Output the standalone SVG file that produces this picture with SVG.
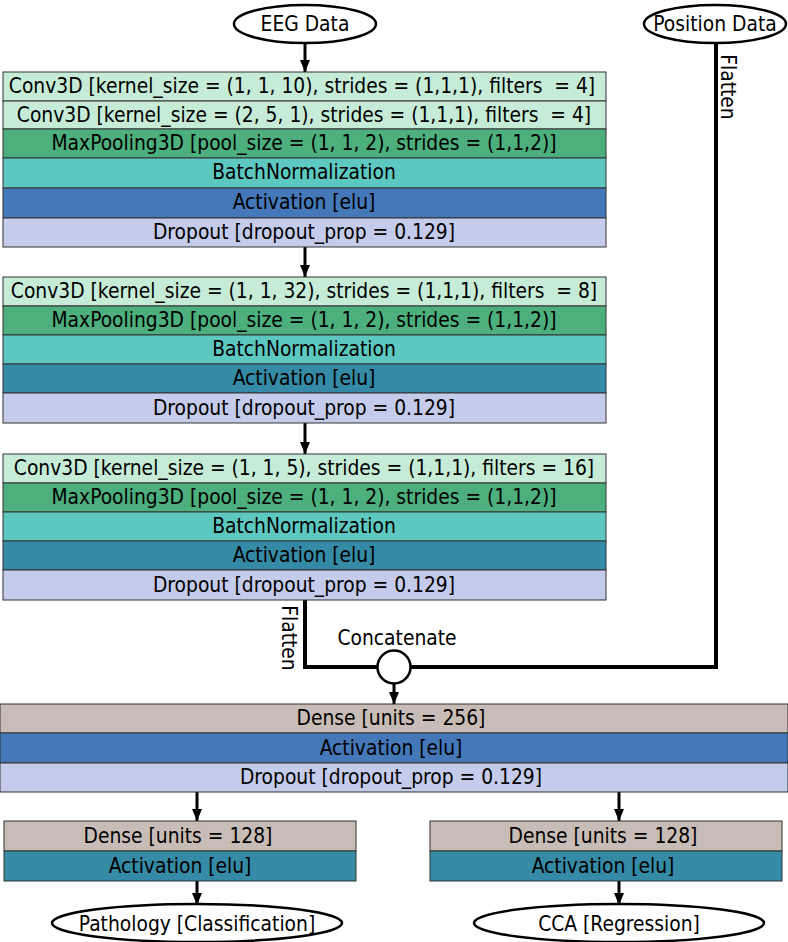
<svg xmlns="http://www.w3.org/2000/svg" width="788" height="942" viewBox="0 0 788 942">
<defs>
<style>
text{font-family:"DejaVu Sans Condensed","DejaVu Sans","Liberation Sans",sans-serif;font-stretch:condensed;font-size:20.8px;fill:#000;text-anchor:middle;white-space:pre}
.r{stroke:#333;stroke-width:1}
.cv{fill:#c6ecd7}.mp{fill:#4caf7d}.bn{fill:#5dc8c0}.ab{fill:#4478b8}.at{fill:#358aa5}.dr{fill:#c5cbea}.de{fill:#c8bdb6}
.ell{fill:#fff;stroke:#000;stroke-width:2.5}
.ln{fill:none;stroke:#000;stroke-width:4}
.ar{fill:none;stroke:#000;stroke-width:3}
</style>
<marker id="ah2" viewBox="0 0 12 10" markerWidth="12" markerHeight="10" refX="12" refY="5" orient="auto" markerUnits="userSpaceOnUse"><path d="M0,0 L12,5 L0,10 z" fill="#000"/></marker>
</defs>
<g id="connectors">
<line class="ar" x1="305" y1="43" x2="305" y2="72" marker-end="url(#ah2)"/>
<line class="ar" x1="305" y1="247" x2="305" y2="277" marker-end="url(#ah2)"/>
<line class="ar" x1="305" y1="423" x2="305" y2="454" marker-end="url(#ah2)"/>
<polyline class="ln" points="305,600 305,667 378,667"/>
<polyline class="ln" points="410,667 716,667 716,43"/>
<line class="ar" x1="394" y1="684" x2="394" y2="704" marker-end="url(#ah2)"/>
<line class="ar" x1="197" y1="792" x2="197" y2="821" marker-end="url(#ah2)"/>
<line class="ar" x1="619" y1="792" x2="619" y2="821" marker-end="url(#ah2)"/>
<line class="ar" x1="197" y1="881" x2="197" y2="905" marker-end="url(#ah2)"/>
<line class="ar" x1="619" y1="881" x2="619" y2="905" marker-end="url(#ah2)"/>
<text transform="translate(721,87) rotate(90)">Flatten</text>
<text transform="translate(282,638) rotate(90)">Flatten</text>
</g>
<g id="eeg"><ellipse class="ell" cx="305" cy="24" rx="71" ry="19"/><text x="305" y="31">EEG Data</text></g>
<g id="pos"><ellipse class="ell" cx="715" cy="24" rx="71" ry="19"/><text x="715" y="31">Position Data</text></g>
<g id="block1">
<rect class="r cv" x="3" y="72" width="603" height="29"/><text x="302" y="93">Conv3D [kernel_size = (1, 1, 10), strides = (1,1,1), filters  = 4]</text>
<rect class="r cv" x="3" y="101" width="603" height="28"/><text x="304" y="122">Conv3D [kernel_size = (2, 5, 1), strides = (1,1,1), filters  = 4]</text>
<rect class="r mp" x="3" y="129" width="603" height="29"/><text x="304" y="150">MaxPooling3D [pool_size = (1, 1, 2), strides = (1,1,2)]</text>
<rect class="r bn" x="3" y="158" width="603" height="30"/><text x="304" y="179">BatchNormalization</text>
<rect class="r ab" x="3" y="188" width="603" height="30"/><text x="304" y="209">Activation [elu]</text>
<rect class="r dr" x="3" y="218" width="603" height="29"/><text x="304" y="239">Dropout [dropout_prop = 0.129]</text>
</g>
<g id="block2">
<rect class="r cv" x="3" y="277" width="603" height="29"/><text x="304" y="298">Conv3D [kernel_size = (1, 1, 32), strides = (1,1,1), filters  = 8]</text>
<rect class="r mp" x="3" y="306" width="603" height="29"/><text x="304" y="327">MaxPooling3D [pool_size = (1, 1, 2), strides = (1,1,2)]</text>
<rect class="r bn" x="3" y="335" width="603" height="29"/><text x="304" y="356">BatchNormalization</text>
<rect class="r at" x="3" y="364" width="603" height="29"/><text x="304" y="385">Activation [elu]</text>
<rect class="r dr" x="3" y="393" width="603" height="30"/><text x="304" y="415">Dropout [dropout_prop = 0.129]</text>
</g>
<g id="block3">
<rect class="r cv" x="3" y="454" width="603" height="29"/><text x="304" y="475">Conv3D [kernel_size = (1, 1, 5), strides = (1,1,1), filters = 16]</text>
<rect class="r mp" x="3" y="483" width="603" height="29"/><text x="304" y="504">MaxPooling3D [pool_size = (1, 1, 2), strides = (1,1,2)]</text>
<rect class="r bn" x="3" y="512" width="603" height="29"/><text x="304" y="533">BatchNormalization</text>
<rect class="r at" x="3" y="541" width="603" height="29"/><text x="304" y="562">Activation [elu]</text>
<rect class="r dr" x="3" y="570" width="603" height="30"/><text x="304" y="592">Dropout [dropout_prop = 0.129]</text>
</g>
<g id="concat"><circle cx="394" cy="667" r="16.5" fill="#fff" stroke="#000" stroke-width="2.5"/><text x="397" y="645">Concatenate</text></g>
<g id="dense1">
<rect class="r de" x="0" y="704" width="788" height="29"/><text x="391" y="725">Dense [units = 256]</text>
<rect class="r ab" x="0" y="733" width="788" height="30"/><text x="391" y="755">Activation [elu]</text>
<rect class="r dr" x="0" y="763" width="788" height="29"/><text x="391" y="784">Dropout [dropout_prop = 0.129]</text>
</g>
<g id="left">
<rect class="r de" x="4" y="821" width="352" height="30"/><text x="178" y="843">Dense [units = 128]</text>
<rect class="r at" x="4" y="851" width="352" height="30"/><text x="180" y="873">Activation [elu]</text>
</g>
<g id="right">
<rect class="r de" x="430" y="821" width="352" height="30"/><text x="603" y="843">Dense [units = 128]</text>
<rect class="r at" x="430" y="851" width="352" height="30"/><text x="603" y="873">Activation [elu]</text>
</g>
<g id="patho"><ellipse class="ell" cx="197" cy="923" rx="145" ry="19"/><text x="197" y="931">Pathology [Classification]</text></g>
<g id="cca"><ellipse class="ell" cx="619" cy="923" rx="145" ry="19"/><text x="619" y="931">CCA [Regression]</text></g>
</svg>
